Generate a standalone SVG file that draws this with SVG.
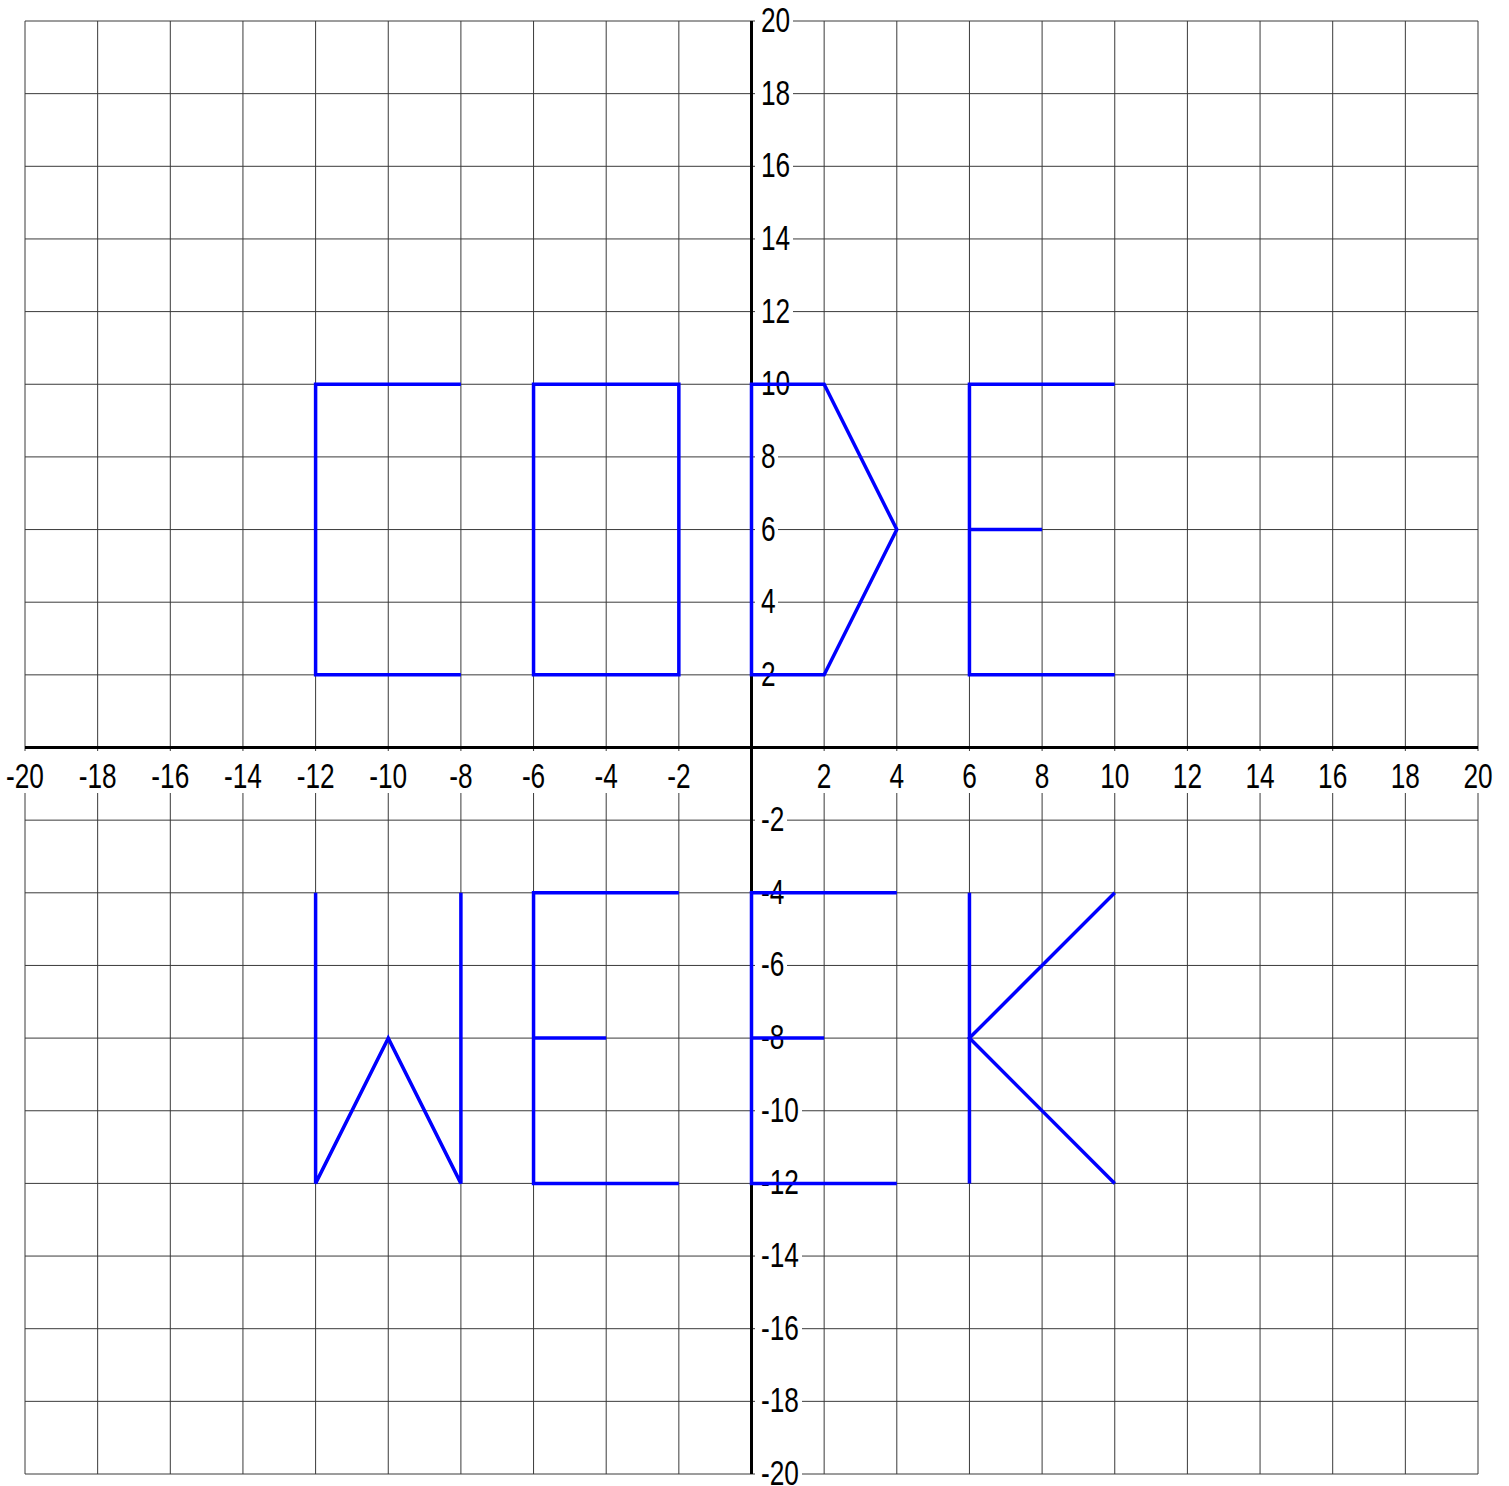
<svg xmlns="http://www.w3.org/2000/svg" width="1509" height="1486" viewBox="0 0 1509 1486">
<style>
.g{stroke:#3a3a3a;stroke-width:1;fill:none}
.ax{stroke:#000;stroke-width:3;fill:none}
.bg{fill:#fff;stroke:none}
.l{font-family:"Liberation Sans",Arial,sans-serif;font-size:35px;fill:#000}
.xl{text-anchor:middle}
.b{stroke:#0000ff;stroke-width:3.5;fill:none;stroke-linejoin:miter}
</style>
<rect x="0" y="0" width="1509" height="1486" fill="#fff"/>
<g id="grid">
<path class="g" d="M25,21V1474M97.65,21V1474M170.3,21V1474M242.95,21V1474M315.6,21V1474M388.25,21V1474M460.9,21V1474M533.55,21V1474M606.2,21V1474M678.85,21V1474M824.15,21V1474M896.8,21V1474M969.45,21V1474M1042.1,21V1474M1114.75,21V1474M1187.4,21V1474M1260.05,21V1474M1332.7,21V1474M1405.35,21V1474M1478,21V1474"/>
<path class="g" d="M25,21H1478M25,93.65H1478M25,166.3H1478M25,238.95H1478M25,311.6H1478M25,384.25H1478M25,456.9H1478M25,529.55H1478M25,602.2H1478M25,674.85H1478M25,820.15H1478M25,892.8H1478M25,965.45H1478M25,1038.1H1478M25,1110.75H1478M25,1183.4H1478M25,1256.05H1478M25,1328.7H1478M25,1401.35H1478M25,1474H1478"/>
</g>
<g id="axes">
<path class="ax" d="M25,747.5H1478M751.5,21V1474"/>
</g>
<g id="x-labels">
<rect class="bg" x="5" y="751" width="40" height="42"/>
<rect class="bg" x="77.65" y="751" width="40" height="42"/>
<rect class="bg" x="150.3" y="751" width="40" height="42"/>
<rect class="bg" x="222.95" y="751" width="40" height="42"/>
<rect class="bg" x="295.6" y="751" width="40" height="42"/>
<rect class="bg" x="368.25" y="751" width="40" height="42"/>
<rect class="bg" x="445.9" y="751" width="30" height="42"/>
<rect class="bg" x="518.55" y="751" width="30" height="42"/>
<rect class="bg" x="591.2" y="751" width="30" height="42"/>
<rect class="bg" x="663.85" y="751" width="30" height="42"/>
<rect class="bg" x="814.15" y="751" width="20" height="42"/>
<rect class="bg" x="886.8" y="751" width="20" height="42"/>
<rect class="bg" x="959.45" y="751" width="20" height="42"/>
<rect class="bg" x="1032.1" y="751" width="20" height="42"/>
<rect class="bg" x="1097.75" y="751" width="34" height="42"/>
<rect class="bg" x="1170.4" y="751" width="34" height="42"/>
<rect class="bg" x="1243.05" y="751" width="34" height="42"/>
<rect class="bg" x="1315.7" y="751" width="34" height="42"/>
<rect class="bg" x="1388.35" y="751" width="34" height="42"/>
<rect class="bg" x="1461" y="751" width="34" height="42"/>
<text class="l xl" transform="translate(25,788) scale(0.75,1)">-20</text>
<text class="l xl" transform="translate(97.65,788) scale(0.75,1)">-18</text>
<text class="l xl" transform="translate(170.3,788) scale(0.75,1)">-16</text>
<text class="l xl" transform="translate(242.95,788) scale(0.75,1)">-14</text>
<text class="l xl" transform="translate(315.6,788) scale(0.75,1)">-12</text>
<text class="l xl" transform="translate(388.25,788) scale(0.75,1)">-10</text>
<text class="l xl" transform="translate(460.9,788) scale(0.75,1)">-8</text>
<text class="l xl" transform="translate(533.55,788) scale(0.75,1)">-6</text>
<text class="l xl" transform="translate(606.2,788) scale(0.75,1)">-4</text>
<text class="l xl" transform="translate(678.85,788) scale(0.75,1)">-2</text>
<text class="l xl" transform="translate(824.15,788) scale(0.75,1)">2</text>
<text class="l xl" transform="translate(896.8,788) scale(0.75,1)">4</text>
<text class="l xl" transform="translate(969.45,788) scale(0.75,1)">6</text>
<text class="l xl" transform="translate(1042.1,788) scale(0.75,1)">8</text>
<text class="l xl" transform="translate(1114.75,788) scale(0.75,1)">10</text>
<text class="l xl" transform="translate(1187.4,788) scale(0.75,1)">12</text>
<text class="l xl" transform="translate(1260.05,788) scale(0.75,1)">14</text>
<text class="l xl" transform="translate(1332.7,788) scale(0.75,1)">16</text>
<text class="l xl" transform="translate(1405.35,788) scale(0.75,1)">18</text>
<text class="l xl" transform="translate(1478,788) scale(0.75,1)">20</text>
</g>
<g id="y-labels">
<rect class="bg" x="755" y="5" width="38" height="32"/>
<rect class="bg" x="755" y="77.65" width="38" height="32"/>
<rect class="bg" x="755" y="150.3" width="38" height="32"/>
<rect class="bg" x="755" y="222.95" width="38" height="32"/>
<rect class="bg" x="755" y="295.6" width="38" height="32"/>
<rect class="bg" x="755" y="368.25" width="38" height="32"/>
<rect class="bg" x="755" y="440.9" width="23" height="32"/>
<rect class="bg" x="755" y="513.55" width="23" height="32"/>
<rect class="bg" x="755" y="586.2" width="23" height="32"/>
<rect class="bg" x="755" y="658.85" width="23" height="32"/>
<rect class="bg" x="755" y="804.15" width="32" height="32"/>
<rect class="bg" x="755" y="876.8" width="32" height="32"/>
<rect class="bg" x="755" y="949.45" width="32" height="32"/>
<rect class="bg" x="755" y="1022.1" width="32" height="32"/>
<rect class="bg" x="755" y="1094.75" width="47" height="32"/>
<rect class="bg" x="755" y="1167.4" width="47" height="32"/>
<rect class="bg" x="755" y="1240.05" width="47" height="32"/>
<rect class="bg" x="755" y="1312.7" width="47" height="32"/>
<rect class="bg" x="755" y="1385.35" width="47" height="32"/>
<rect class="bg" x="755" y="1458" width="47" height="28"/>
<text class="l" transform="translate(761,32) scale(0.75,1)">20</text>
<text class="l" transform="translate(761,104.65) scale(0.75,1)">18</text>
<text class="l" transform="translate(761,177.3) scale(0.75,1)">16</text>
<text class="l" transform="translate(761,249.95) scale(0.75,1)">14</text>
<text class="l" transform="translate(761,322.6) scale(0.75,1)">12</text>
<text class="l" transform="translate(761,395.25) scale(0.75,1)">10</text>
<text class="l" transform="translate(761,467.9) scale(0.75,1)">8</text>
<text class="l" transform="translate(761,540.55) scale(0.75,1)">6</text>
<text class="l" transform="translate(761,613.2) scale(0.75,1)">4</text>
<text class="l" transform="translate(761,685.85) scale(0.75,1)">2</text>
<text class="l" transform="translate(761,831.15) scale(0.75,1)">-2</text>
<text class="l" transform="translate(761,903.8) scale(0.75,1)">-4</text>
<text class="l" transform="translate(761,976.45) scale(0.75,1)">-6</text>
<text class="l" transform="translate(761,1049.1) scale(0.75,1)">-8</text>
<text class="l" transform="translate(761,1121.75) scale(0.75,1)">-10</text>
<text class="l" transform="translate(761,1194.4) scale(0.75,1)">-12</text>
<text class="l" transform="translate(761,1267.05) scale(0.75,1)">-14</text>
<text class="l" transform="translate(761,1339.7) scale(0.75,1)">-16</text>
<text class="l" transform="translate(761,1412.35) scale(0.75,1)">-18</text>
<text class="l" transform="translate(761,1485) scale(0.75,1)">-20</text>
</g>
<g id="letter-C"><polyline class="b" points="460.9,384.25 315.6,384.25 315.6,674.85 460.9,674.85"/></g>
<g id="letter-O"><polygon class="b" points="533.55,384.25 678.85,384.25 678.85,674.85 533.55,674.85"/></g>
<g id="letter-D"><polygon class="b" points="751.5,384.25 824.15,384.25 896.8,529.55 824.15,674.85 751.5,674.85"/></g>
<g id="letter-E1"><polyline class="b" points="1114.75,384.25 969.45,384.25 969.45,674.85 1114.75,674.85"/><line class="b" x1="969.45" y1="529.55" x2="1042.1" y2="529.55"/></g>
<g id="letter-W"><polyline class="b" points="315.6,892.8 315.6,1183.4 388.25,1038.1 460.9,1183.4 460.9,892.8"/></g>
<g id="letter-E2"><polyline class="b" points="678.85,892.8 533.55,892.8 533.55,1183.4 678.85,1183.4"/><line class="b" x1="533.55" y1="1038.1" x2="606.2" y2="1038.1"/></g>
<g id="letter-E3"><polyline class="b" points="896.8,892.8 751.5,892.8 751.5,1183.4 896.8,1183.4"/><line class="b" x1="751.5" y1="1038.1" x2="824.15" y2="1038.1"/></g>
<g id="letter-K"><line class="b" x1="969.45" y1="892.8" x2="969.45" y2="1183.4"/><polyline class="b" points="1114.75,892.8 969.45,1038.1 1114.75,1183.4"/></g>
</svg>
